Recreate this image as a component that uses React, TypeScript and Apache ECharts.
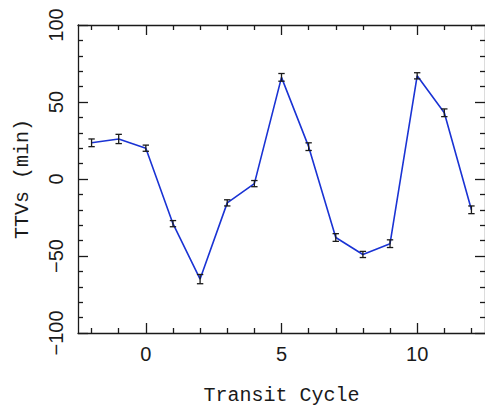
import React, { useEffect, useRef } from "react";
import * as echarts from "echarts";

const cycles = [-2, -1, 0, 1, 2, 3, 4, 5, 6, 7, 8, 9, 10, 11, 12];
const ttv = [23.5, 26, 20, -29, -65, -15.5, -3, 66, 21, -38, -49, -42, 67, 43, -20];
const err = [2.5, 3, 2, 2, 3, 2, 2, 2.5, 2.5, 2.5, 2, 2.5, 2, 2.5, 2.5];
const majorX = [0, 5, 10];
const minorX = [-2, -1, 1, 2, 3, 4, 6, 7, 8, 9, 11, 12];
const xTitle = "Transit Cycle";
const yTitle = "TTVs (min)";

const LINE = "#1a33d4";
const INK = "#1a1a1a";
const TICKFONT = "'Liberation Sans', Arial, sans-serif";
const TITLEFONT = "'Liberation Mono', 'DejaVu Sans Mono', monospace";

export default function App() {
  const ref = useRef<HTMLDivElement>(null);
  useEffect(() => {
    if (!ref.current) return;
    const chart = echarts.init(ref.current, undefined, { renderer: "svg" });
    const lineData = cycles.map((c, i) => [c, ttv[i]]);
    const errData = cycles.map((c, i) => [c, ttv[i] - err[i], ttv[i] + err[i]]);
    const baseX = {
      type: "value" as const,
      min: -2.5,
      max: 12.5,
      splitLine: { show: false },
    };
    const axLine = (show: boolean) => ({ show, onZero: false, lineStyle: { color: INK, width: 1.3 } });
    chart.setOption({
      animation: false,
      grid: { left: 78, top: 25, right: -4.5, bottom: 78, containLabel: false },
      xAxis: [
        {
          ...baseX,
          position: "bottom",
          axisLine: axLine(true),
          axisTick: { show: true, inside: true, length: 10, customValues: majorX, lineStyle: { color: INK, width: 1.3 } },
          axisLabel: {
            show: true,
            customValues: majorX,
            margin: 11,
            fontSize: 20,
            fontFamily: TICKFONT,
            color: INK,
            formatter: (v: number) => String(v).replace("-", "\u2212"),
          },
          name: xTitle,
          nameLocation: "middle",
          nameGap: 52,
          nameTextStyle: { fontSize: 20, fontFamily: TITLEFONT, color: INK },
        },
        {
          ...baseX,
          position: "bottom",
          axisLine: axLine(false),
          axisTick: { show: true, inside: true, length: 5, customValues: minorX, lineStyle: { color: INK, width: 1.3 } },
          axisLabel: { show: false },
        },
        {
          ...baseX,
          position: "top",
          axisLine: axLine(true),
          axisTick: { show: true, inside: true, length: 10, customValues: majorX, lineStyle: { color: INK, width: 1.3 } },
          axisLabel: { show: false },
        },
        {
          ...baseX,
          position: "top",
          axisLine: axLine(false),
          axisTick: { show: true, inside: true, length: 5, customValues: minorX, lineStyle: { color: INK, width: 1.3 } },
          axisLabel: { show: false },
        },
      ],
      yAxis: [
        {
          type: "value",
          position: "left",
          min: -100,
          max: 100,
          interval: 50,
          splitLine: { show: false },
          axisLine: axLine(true),
          axisTick: { show: true, inside: true, length: 10, lineStyle: { color: INK, width: 1.3 } },
          minorTick: { show: true, splitNumber: 5, length: 5, lineStyle: { color: INK, width: 1.3 } },
          axisLabel: {
            rotate: 90,
            margin: 12,
            fontSize: 20,
            fontFamily: TICKFONT,
            color: INK,
            formatter: (v: number) => String(v).replace("-", "\u2212"),
          },
          name: yTitle,
          nameLocation: "middle",
          nameGap: 46,
          nameTextStyle: { fontSize: 20, fontFamily: TITLEFONT, color: INK },
        },
        {
          type: "value",
          position: "right",
          min: -100,
          max: 100,
          interval: 50,
          splitLine: { show: false },
          axisLine: axLine(true),
          axisTick: { show: true, inside: true, length: 10, lineStyle: { color: INK, width: 1.3 } },
          minorTick: { show: true, splitNumber: 5, length: 5, lineStyle: { color: INK, width: 1.3 } },
          axisLabel: { show: false },
        },
      ],
      series: [
        {
          type: "line",
          xAxisIndex: 0,
          yAxisIndex: 0,
          data: lineData,
          symbol: "none",
          lineStyle: { color: LINE, width: 1.6 },
          z: 2,
        },
        {
          type: "custom",
          xAxisIndex: 0,
          yAxisIndex: 0,
          data: errData,
          z: 3,
          renderItem: (_params: any, api: any) => {
            const x = api.value(0);
            const lo = api.coord([x, api.value(1)]);
            const hi = api.coord([x, api.value(2)]);
            const w = 3.2;
            const style = { stroke: INK, lineWidth: 1.3 };
            return {
              type: "group",
              children: [
                { type: "line", shape: { x1: lo[0], y1: lo[1], x2: hi[0], y2: hi[1] }, style },
                { type: "line", shape: { x1: lo[0] - w, y1: lo[1], x2: lo[0] + w, y2: lo[1] }, style },
                { type: "line", shape: { x1: hi[0] - w, y1: hi[1], x2: hi[0] + w, y2: hi[1] }, style },
              ],
            };
          },
        },
      ],
    });
    return () => chart.dispose();
  }, []);
  return (
    <div
      ref={ref}
      style={{ position: "absolute", left: 0, top: 0, width: 485, height: 411, background: "#fff" }}
    />
  );
}
